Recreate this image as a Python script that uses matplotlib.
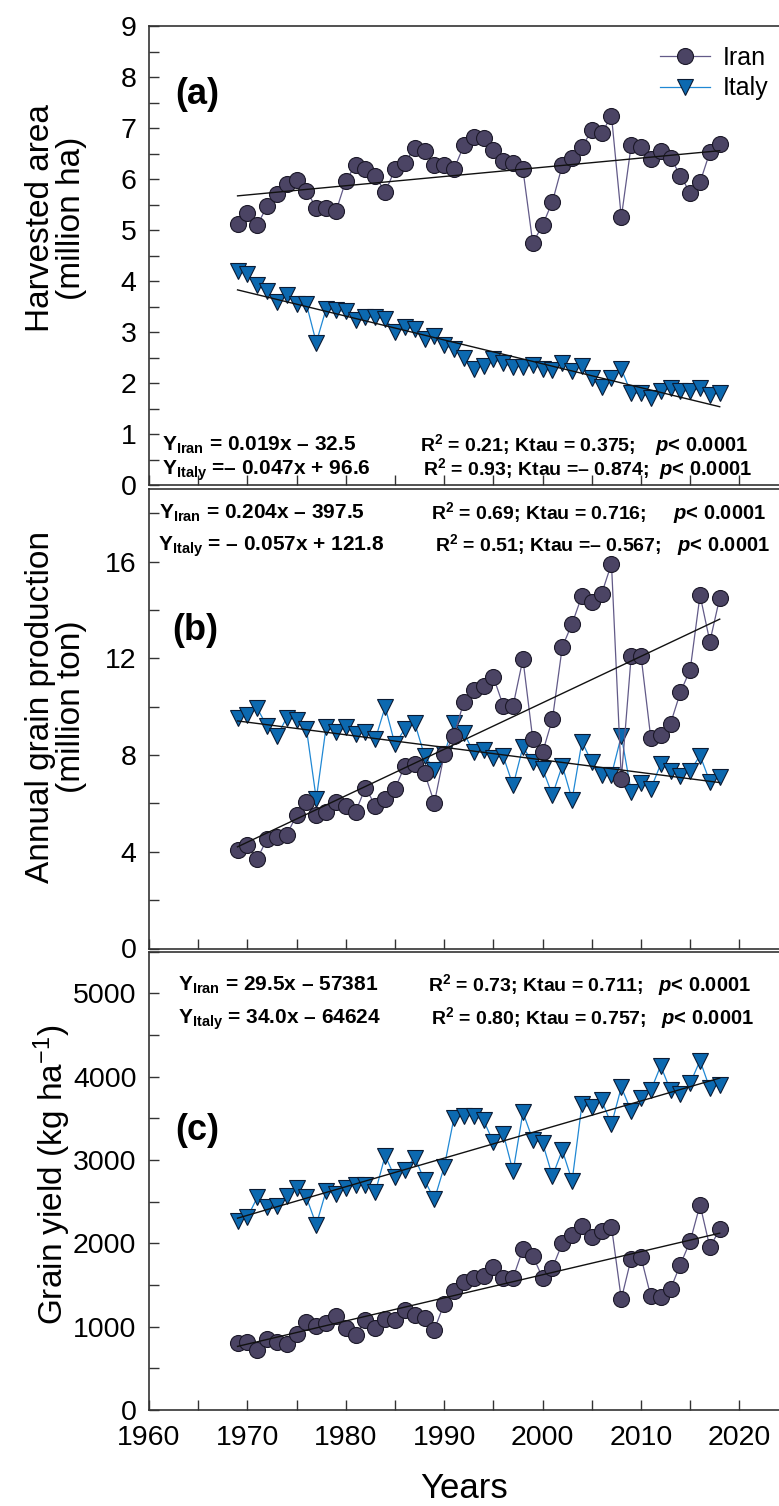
import numpy as np
import matplotlib
matplotlib.use("Agg")
import matplotlib.pyplot as plt
from matplotlib.ticker import MultipleLocator

plt.rcParams['font.family'] = ['Liberation Sans', 'DejaVu Sans']
plt.rcParams['mathtext.fontset'] = 'custom'
plt.rcParams['mathtext.rm'] = 'Liberation Sans'
plt.rcParams['mathtext.bf'] = 'Liberation Sans:bold'
plt.rcParams['mathtext.it'] = 'Liberation Sans:bold:italic'
plt.rcParams['mathtext.sf'] = 'Liberation Sans'

# ---------------- data ----------------
years = list(range(1969, 2019))

iran_area = [5.12, 5.34, 5.10, 5.47, 5.71, 5.90, 5.99, 5.77, 5.44, 5.44,
             5.37, 5.97, 6.28, 6.19, 6.06, 5.75, 6.19, 6.32, 6.62, 6.56,
             6.27, 6.28, 6.20, 6.66, 6.83, 6.80, 6.58, 6.35, 6.31, 6.19,
             4.75, 5.10, 5.56, 6.27, 6.42, 6.63, 6.96, 6.90, 7.24, 5.25,
             6.66, 6.63, 6.40, 6.56, 6.42, 6.07, 5.73, 5.94, 6.53, 6.69]
italy_area = [4.20, 4.14, 3.92, 3.81, 3.59, 3.73, 3.55, 3.55, 2.80, 3.46,
              3.43, 3.41, 3.24, 3.30, 3.30, 3.26, 3.01, 3.10, 3.07, 2.86,
              2.92, 2.75, 2.67, 2.50, 2.29, 2.35, 2.48, 2.39, 2.33, 2.33,
              2.36, 2.29, 2.27, 2.40, 2.25, 2.35, 2.10, 1.93, 2.10, 2.28,
              1.81, 1.81, 1.72, 1.85, 1.90, 1.86, 1.85, 1.90, 1.78, 1.81]

iran_prod = [4.09, 4.28, 3.71, 4.53, 4.59, 4.70, 5.52, 6.05, 5.52, 5.66,
             6.05, 5.91, 5.66, 6.65, 5.91, 6.18, 6.60, 7.56, 7.62, 7.26,
             6.02, 8.03, 8.80, 10.21, 10.70, 10.87, 11.23, 10.04, 10.04, 11.97,
             8.66, 8.11, 9.49, 12.47, 13.43, 14.59, 14.34, 14.67, 15.91, 7.01,
             12.08, 12.11, 8.69, 8.83, 9.30, 10.59, 11.53, 14.61, 12.69, 14.50]
italy_prod = [9.55, 9.66, 9.93, 9.19, 8.77, 9.55, 9.46, 9.08, 6.18, 9.16,
              8.94, 9.16, 8.86, 8.94, 8.66, 9.99, 8.44, 9.08, 9.33, 7.98,
              7.40, 8.03, 9.33, 8.91, 8.11, 8.22, 7.89, 7.95, 6.74, 8.33,
              7.70, 7.42, 6.35, 7.56, 6.16, 8.55, 7.70, 7.18, 7.18, 8.80,
              6.49, 6.85, 6.60, 7.62, 7.34, 7.15, 7.34, 7.98, 6.90, 7.09]

iran_yield = [805, 821, 725, 853, 821, 797, 916, 1052, 1012, 1044,
              1124, 988, 900, 1084, 980, 1092, 1076, 1203, 1140, 1100,
              964, 1275, 1426, 1538, 1578, 1602, 1713, 1586, 1586, 1928,
              1849, 1586, 1705, 2000, 2104, 2207, 2080, 2151, 2199, 1331,
              1817, 1833, 1363, 1355, 1450, 1745, 2024, 2462, 1952, 2167]
italy_yield = [2263, 2311, 2550, 2430, 2446, 2566, 2669, 2550, 2223, 2629,
               2590, 2661, 2701, 2701, 2614, 3052, 2789, 2884, 3028, 2757,
               2526, 2916, 3506, 3530, 3530, 3474, 3211, 3315, 2861, 3570,
               3243, 3203, 2805, 3116, 2749, 3665, 3633, 3713, 3426, 3873,
               3586, 3745, 3833, 4128, 3833, 3793, 3920, 4191, 3857, 3904]

series_names = ["Iran", "Italy"]
panel_letters = ["(a)", "(b)", "(c)"]
ylabels = ["Harvested area\n(million ha)",
           "Annual grain production\n(million ton)",
           "Grain yield (kg ha$^{\\mathrm{-1}}$)"]
eq_iran = ["0.019x \u2013 32.5", "0.204x \u2013 397.5", "29.5x \u2013 57381"]
eq_italy = ["\u2013 0.047x + 96.6", " \u2013 0.057x + 121.8", " 34.0x \u2013 64624"]
stat_iran = ["R$^{\\mathbf{2}}$ = 0.21; Ktau = 0.375;",
             "R$^{\\mathbf{2}}$ = 0.69; Ktau = 0.716;",
             "R$^{\\mathbf{2}}$ = 0.73; Ktau = 0.711;"]
stat_italy = ["R$^{\\mathbf{2}}$ = 0.93; Ktau =\u2013 0.874;",
              "R$^{\\mathbf{2}}$ = 0.51; Ktau =\u2013 0.567;",
              "R$^{\\mathbf{2}}$ = 0.80; Ktau = 0.757;"]
p_text = "$\\mathit{p}$< 0.0001"

# ---------------- style ----------------
iran_fc, iran_ec, iran_lc = "#4b4464", "#1b1828", "#625a88"
italy_fc, italy_ec, italy_lc = "#0c69b0", "#0b1b33", "#2088d4"

W, H = 779, 1506
fig = plt.figure(figsize=(W / 100, H / 100), dpi=100)
fig.patch.set_facecolor("white")

left_px = 149
# (top_px, bottom_px) for each panel
panel_px = [(26, 485.5), (489, 948.5), (951.5, 1410)]
ylims = [(0, 9), (0, 19), (0, 5500)]
ymajor = [1, 4, 1000]
yminor = [0.5, 2, 500]
ylabel_y = [0.582, 0.526, 0.513]
ylabel_x_px = [56, 56, 52]

data = [(iran_area, italy_area), (iran_prod, italy_prod), (iran_yield, italy_yield)]

# text positions in pixels
txt_px = [
    dict(xeq=(162, 162), xst=(420, 423), xp=(748, 752), yb=(451, 475)),
    dict(xeq=(159, 158), xst=(431, 435), xp=(766, 770), yb=(519, 551)),
    dict(xeq=(178, 178), xst=(428, 431), xp=(751, 754), yb=(991, 1024)),
]
letter_px = [(197, 95), (195, 630), (197, 1130)]

axes = []
for i in range(3):
    top, bot = panel_px[i]
    ax = fig.add_axes([left_px / W, 1 - bot / H, 1 - left_px / W, (bot - top) / H])
    axes.append(ax)
    ir, it = data[i]
    yrs = np.array(years)

    ax.plot(yrs, it, color=italy_lc, lw=0.9, marker="v", ms=12,
            mfc=italy_fc, mec=italy_ec, mew=0.8, label=series_names[1], zorder=3)
    ax.plot(yrs, ir, color=iran_lc, lw=0.9, marker="o", ms=11.5,
            mfc=iran_fc, mec=iran_ec, mew=0.8, label=series_names[0], zorder=4)
    for vals in (ir, it):
        k, b = np.polyfit(yrs, np.array(vals), 1)
        ax.plot(yrs[[0, -1]], k * yrs[[0, -1]] + b, color="#111111", lw=1.0, zorder=5)

    ax.set_xlim(1960, 1960 + (W - left_px) / 9.84)
    ax.set_ylim(*ylims[i])
    ax.xaxis.set_major_locator(MultipleLocator(10))
    ax.xaxis.set_minor_locator(MultipleLocator(5))
    ax.yaxis.set_major_locator(MultipleLocator(ymajor[i]))
    ax.yaxis.set_minor_locator(MultipleLocator(yminor[i]))
    ax.tick_params(which="both", direction="in", length=7, width=1.0,
                   top=False, right=False, labelsize=20.5, color="#333333")
    ax.tick_params(axis="y", pad=9)
    ax.tick_params(axis="x", pad=11)
    if i < 2:
        ax.tick_params(axis="x", labelbottom=False)
    ax.spines["right"].set_visible(False)
    for s in ("left", "top", "bottom"):
        ax.spines[s].set_linewidth(1.2)
        ax.spines[s].set_color("#333333")

    ax.set_ylabel(ylabels[i], fontsize=24, linespacing=1.02, ha="center", va="center")
    ax.yaxis.set_label_coords((ylabel_x_px[i] - left_px) / (W - left_px), ylabel_y[i])

    # annotations
    tp = txt_px[i]
    def fx(px):
        return (px - left_px) / (W - left_px)
    def fy(py):
        return (bot - py) / (bot - top)
    kw = dict(transform=ax.transAxes, fontweight="bold", va="baseline")
    ax.text(fx(tp["xeq"][0]), fy(tp["yb"][0]), "$\\mathbf{Y_{Iran}}$ = " + eq_iran[i],
            ha="left", fontsize=15, **kw)
    ax.text(fx(tp["xeq"][1]), fy(tp["yb"][1]), "$\\mathbf{Y_{Italy}}$ =" + eq_italy[i],
            ha="left", fontsize=15, **kw)
    ax.text(fx(tp["xst"][0]), fy(tp["yb"][0]), stat_iran[i], ha="left", fontsize=14, **kw)
    ax.text(fx(tp["xst"][1]), fy(tp["yb"][1]), stat_italy[i], ha="left", fontsize=14, **kw)
    for j in range(2):
        ax.text(fx(tp["xp"][j]), fy(tp["yb"][j]), p_text, ha="right", fontsize=14.5, **kw)
    lx, ly = letter_px[i]
    ax.text(fx(lx), fy(ly), panel_letters[i], transform=ax.transAxes,
            fontsize=26, fontweight="bold", ha="center", va="center")

# legend in panel (a)
axa = axes[0]
h, l = axa.get_legend_handles_labels()
axa.legend(h[::-1], l[::-1], loc="upper left",
           bbox_to_anchor=((660 - left_px) / (W - left_px), (485.5 - 46) / 459.5),
           frameon=False, fontsize=18, handlelength=2.0, handletextpad=0.5,
           borderpad=0, borderaxespad=0, labelspacing=0.25)

axes[2].set_xlabel("Years", fontsize=25)
axes[2].xaxis.set_label_coords(0.5, (1410 - 1489) / 458.5)
axes[2].xaxis.label.set_va("center")

fig.savefig("out.png", dpi=100, facecolor="white")
